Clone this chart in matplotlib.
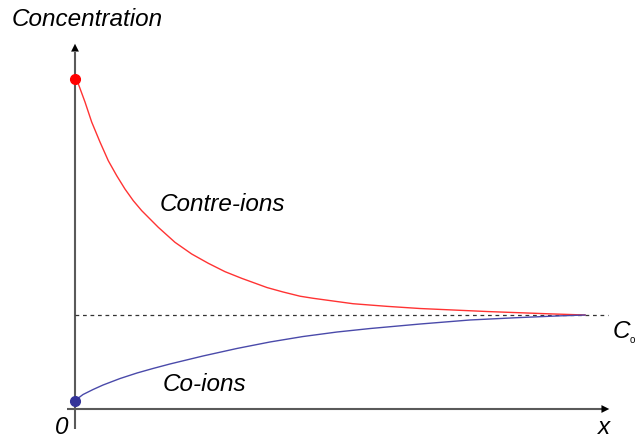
import numpy as np
import matplotlib
matplotlib.use('Agg')
import matplotlib.pyplot as plt

# Concentration profiles near a charged surface (arbitrary units)
x_contre = [0.0, 0.053, 0.196, 0.327, 0.490, 0.653, 0.818, 0.980, 1.143,
            1.308, 1.633, 1.961, 2.288, 2.614, 2.941, 3.269, 3.765, 4.078,
            4.412, 4.667, 5.451, 6.118, 6.765, 8.078, 9.373, 10.0]
c_contre = [3.511, 3.476, 3.266, 3.053, 2.840, 2.641, 2.482, 2.340, 2.216,
            2.110, 1.933, 1.773, 1.649, 1.550, 1.461, 1.390, 1.292, 1.245,
            1.200, 1.178, 1.120, 1.092, 1.069, 1.037, 1.011, 1.0]

x_co = [0.0, 0.157, 0.353, 0.549, 0.882, 1.216, 1.529, 1.863, 2.510,
        3.176, 3.824, 4.471, 5.137, 5.784, 6.765, 7.745, 8.725, 9.510, 10.0]
c_co = [0.090, 0.154, 0.207, 0.255, 0.324, 0.383, 0.431, 0.479, 0.564,
        0.644, 0.713, 0.771, 0.819, 0.856, 0.904, 0.947, 0.973, 0.991, 1.0]

c0 = 1.0

fig = plt.figure(figsize=(6.37, 4.39), dpi=100)
ax = fig.add_axes([0, 0, 1, 1])
ax.set_xlim(-75 / 51, 562 / 51)
ax.set_ylim(-29 / 94, 410 / 94)
ax.axis('off')

font = dict(family='Liberation Sans', style='italic', color='black')

# axes with arrow heads
ax.plot([0, 0], [-0.21, 3.80], color='#5a5a5a', lw=1.5, solid_capstyle='butt')
ax.plot([-0.16, 10.40], [0, 0], color='#5a5a5a', lw=1.5, solid_capstyle='butt')
ax.annotate('', xy=(0, 3.915), xytext=(0, 3.70),
            arrowprops=dict(arrowstyle='-|>', color='black', lw=0.01, mutation_scale=14))
ax.annotate('', xy=(10.53, 0), xytext=(10.25, 0),
            arrowprops=dict(arrowstyle='-|>', color='black', lw=0.01, mutation_scale=14))

# bulk concentration
ax.plot([0, 10.45], [c0, c0], color='#333333', lw=0.9, dashes=(3, 3))

ax.plot(x_contre, c_contre, color='#ff3333', lw=1.0)
ax.plot(x_co, c_co, color='#4a4aaa', lw=1.0)
ax.plot(x_contre[0], c_contre[0], 'o', color='#ff0000', ms=7, zorder=5)
ax.plot(x_co[0], c_co[0], 'o', color='#333399', ms=7, zorder=5)

ax.text(-1.235, 4.149, 'Concentration', fontsize=17.5, va='center', ha='left', **font)
ax.text(1.667, 2.181, 'Contre-ions', fontsize=17.5, va='center', ha='left', **font)
ax.text(1.725, 0.266, 'Co-ions', fontsize=17.5, va='center', ha='left', **font)
ax.text(-0.255, -0.191, '0', fontsize=17.5, va='center', ha='center', **font)
ax.text(10.37, -0.191, 'x', fontsize=17.5, va='center', ha='center', **font)
ax.text(10.55, 0.84, 'C', fontsize=17.5, va='center', ha='left', **font)
ax.text(10.93, 0.745, 'o', fontsize=7, va='center', ha='center', family='Liberation Sans')

fig.savefig('out.png', dpi=100)
